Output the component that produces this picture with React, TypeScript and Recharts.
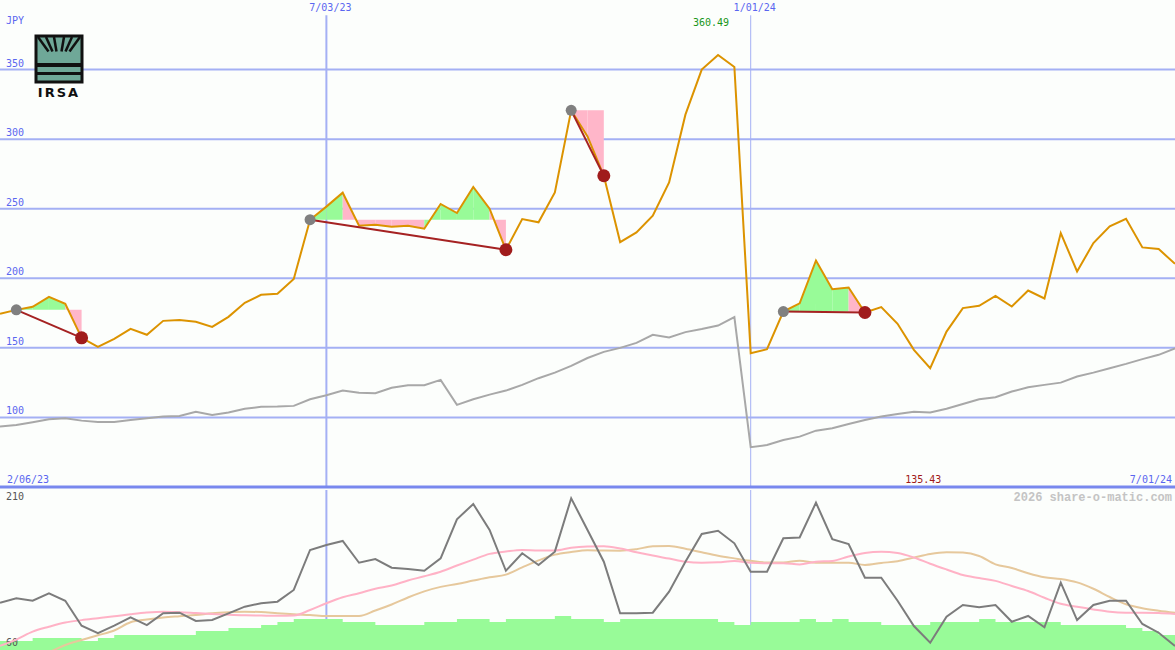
import React from 'react';
import { ComposedChart, Line, Area, XAxis, YAxis, ReferenceLine, ReferenceDot } from 'recharts';

// ---------- data ----------
const weekIndex: number[] = [
  0, 1, 2, 3, 4, 5, 6, 7, 8, 9, 10, 11, 12, 13, 14, 15, 16, 17, 18, 19, 20, 21, 22, 23, 24,
  25, 26, 27, 28, 29, 30, 31, 32, 33, 34, 35, 36, 37, 38, 39, 40, 41, 42, 43, 44, 45, 46, 47, 48,
  49, 50, 51, 52, 53, 54, 55, 56, 57, 58, 59, 60, 61, 62, 63, 64, 65, 66, 67, 68, 69, 70, 71, 72,
];
const dateLabels = ['2/06/23', '7/03/23', '1/01/24', '7/01/24'];
const dateLabelWeeks = [0, 20, 46, 72];
const priceTicks = [100, 150, 200, 250, 300, 350];
const lowerTicks = [60, 210];

const price = [
  174.5, 177.3, 179.5, 186.7, 181.7, 157.2, 150.7, 156.5, 163.7, 159.4,
  169.4, 170.1, 168.7, 165.1, 172.3, 182.4, 188.1, 188.9, 199.5, 242.1,
  251.5, 261.5, 237.8, 238.5, 237, 237.8, 235.6, 253.4, 246.9, 265.6,
  250, 220.5, 242.6, 240.2, 261.7, 320.7, 302, 273.7, 226, 233,
  245, 268.9, 317.6, 350, 360.49, 351.9, 146.2, 149, 176.1, 182,
  212.8, 192.2, 193.4, 175.4, 179.3, 167.3, 148.6, 135.43, 161.7, 178.6,
  180.2, 187.4, 179.7, 191.2, 185.5, 232.5, 204.9, 225.3, 237.3, 242.8,
  222.2, 221, 210.4,
];
const relative = [
  93.4, 94.6, 96.6, 98.7, 99.4, 97.7, 96.8, 96.8, 98.2, 99.4,
  100.6, 101.1, 104, 101.8, 103.5, 106.3, 107.6, 107.8, 108.3, 113.1,
  116, 119.3, 117.8, 117.4, 121.3, 123.2, 123.2, 127, 109, 113.1,
  116.4, 119.3, 123.4, 128.2, 132.2, 137, 142.7, 147.1, 150, 153.6,
  159.4, 157.4, 161.3, 163.5, 166, 172.1, 78.6, 80.2, 83.8, 86.2,
  90.5, 92.2, 95.3, 98.2, 100.6, 102.5, 104, 103.5, 106.3, 109.7,
  113.1, 114.5, 118.6, 121.7, 123.4, 125, 129.4, 132.2, 135.4, 138.5,
  141.9, 145, 149.6,
];
const oscillator = [
  104.3, 108.5, 106.2, 113.2, 106.2, 82.8, 75.7, 82.8, 90.7, 83.4,
  94.4, 95, 87.2, 88.1, 94.4, 100.6, 103.8, 105.3, 116.3, 153.8,
  158.4, 162.2, 141.8, 145.3, 137.2, 136, 134.3, 146, 182.5, 196.9,
  172.5, 134.3, 150.7, 139.7, 152.2, 202.2, 172.5, 142.8, 94.4, 94.4,
  95, 114.7, 142.8, 168.8, 171.8, 160, 133.4, 133.4, 164.7, 165.5,
  198.1, 163.8, 159.4, 127.8, 127.8, 106.2, 82.5, 66.8, 91.2, 102.2,
  100, 102.2, 86.5, 91.9, 81.3, 123.1, 88.1, 102.2, 106.2, 106.2,
  84.4, 76.2, 63.8,
];
const avgFast = [
  64, 69.8, 77.2, 81.8, 85.8, 88, 89.8, 91.6, 93.5, 95.1,
  95.9, 95.4, 94.6, 93.8, 93, 92.6, 92.3, 92, 92.3, 97.5,
  103.8, 109.4, 113.2, 117.4, 120.5, 125.2, 129.1, 133.4, 139.2, 144.7,
  150.1, 152.3, 153.8, 153.2, 153.2, 155.8, 157, 157.3, 155.2, 151.7,
  148.5, 145.7, 142.8, 141.8, 142.2, 143.4, 141.8, 141.3, 141.3, 140.2,
  142.8, 143.4, 147.7, 151, 152.1, 150.9, 146.7, 140.9, 135.5, 130.3,
  127.5, 124.8, 120, 115.3, 109, 103.3, 100.5, 98, 95.8, 95,
  95, 94.7, 93.8,
];
const avgSlow = [
  44, 48, 53, 58, 64.7, 69.4, 73.8, 78.3, 86, 88.6,
  90.5, 91.7, 92.8, 94.5, 95.4, 95.8, 95.7, 94.4, 93.4, 92.8,
  91.9, 91.9, 91.9, 97, 102.7, 109.2, 115, 119.2, 121.9, 125.1,
  128.2, 130.7, 137.5, 144, 149.4, 151.9, 153.6, 153.2, 153.1, 154.5,
  157.2, 157.5, 154.9, 151.6, 148.4, 145.9, 143.6, 142.1, 142.1, 143.7,
  141.9, 141.8, 141.8, 139.7, 141.6, 143.2, 146.6, 150.1, 151.6, 151.3,
  148.1, 140.3, 136.9, 132, 128.2, 126.6, 123.4, 117.4, 109.7, 102.9,
  99.2, 96.9, 95,
];
const volume = [
  68.4, 68.4, 71.3, 71.3, 71.3, 68.4, 71.3, 74.1, 74.1, 74.1,
  74.1, 74.1, 77.8, 77.8, 80.6, 80.6, 83.4, 86.3, 89.1, 89.1,
  89.1, 86.3, 86.3, 83.4, 83.4, 83.4, 86.3, 86.3, 89.1, 89.1,
  86.3, 89.1, 89.1, 89.1, 91.9, 89.1, 89.1, 86.3, 89.1, 89.1,
  89.1, 89.1, 89.1, 89.1, 86.3, 83.4, 86.3, 86.3, 86.3, 89.1,
  86.3, 89.1, 86.3, 86.3, 83.4, 83.4, 83.4, 86.3, 86.3, 86.3,
  89.1, 86.3, 86.3, 86.3, 86.3, 83.4, 83.4, 83.4, 83.4, 80.6,
  77.8, 74.1, 74.1,
];
const signalStart = [1, 19, 35, 48];
const signalEnd = [5, 31, 37, 53];

// ---------- styles ----------
const BG = '#fcfefc';
const GRID = '#a4b0f4';
const AXIS_BLUE = '#5a66f0';
const BORDER = '#7888ee';
const ORANGE = '#dc9300';
const REL_GRAY = '#a8a8a8';
const OSC_GRAY = '#7c7c7c';
const PINK_LINE = '#ffb2c6';
const TAN_LINE = '#e6c89c';
const GREEN_FILL = '#98fb98';
const PINK_FILL = '#ffb6c9';
const SIG_RED = '#a52222';
const MONO = 'DejaVu Sans Mono, monospace';

// ---------- derived tables ----------
const fillKeys: { key: string; color: string }[] = [];
signalStart.forEach((s, n) => {
  const e = signalEnd[n];
  for (let k = s; k < e; k++) {
    fillKeys.push({ key: `fill${n}_${k}`, color: price[k + 1] >= price[s] ? GREEN_FILL : PINK_FILL });
  }
});

const topData = weekIndex.map((i) => {
  const row: any = { i, price: price[i], relative: relative[i] };
  signalStart.forEach((s, n) => {
    const e = signalEnd[n];
    const base = price[s];
    if (i === s || i === e) row[`sig${n}`] = price[i];
    for (let k = s; k < e; k++) {
      if (i === k || i === k + 1) row[`fill${n}_${k}`] = [base, price[i]];
    }
  });
  return row;
});

const bottomData = weekIndex.map((i) => ({
  i,
  volume: volume[i],
  oscillator: oscillator[i],
  avgFast: avgFast[i],
  avgSlow: avgSlow[i],
}));

let maxIdx = 0;
let minIdx = 0;
price.forEach((p, i) => {
  if (p > price[maxIdx]) maxIdx = i;
  if (p < price[minIdx]) minIdx = i;
});

// ---------- renderers ----------
const makeGridLabel = (value: number) => (p: any) => (
  <text x={p.viewBox.x + 6} y={p.viewBox.y - 3} fill={AXIS_BLUE} fontSize={10} fontFamily={MONO}>
    {value}
  </text>
);

const makeLowerLabel = (value: number, top: boolean) => (p: any) => (
  <text
    x={p.viewBox.x + 6}
    y={top ? p.viewBox.y + 10 : p.viewBox.y - 4}
    fill="#555555"
    fontSize={10}
    fontFamily={MONO}
  >
    {value}
  </text>
);

const bottomDatesLabel = (p: any) => (
  <g>
    <text x={p.viewBox.x + 7} y={p.viewBox.y - 4} textAnchor="start" fill={AXIS_BLUE} fontSize={10} fontFamily={MONO}>
      {dateLabels[0]}
    </text>
    <text
      x={p.viewBox.x + p.viewBox.width - 3}
      y={p.viewBox.y - 4}
      textAnchor="end"
      fill={AXIS_BLUE}
      fontSize={10}
      fontFamily={MONO}
    >
      {dateLabels[3]}
    </text>
  </g>
);

const makeTopDateLabel = (text: string) => (p: any) => (
  <text
    x={p.viewBox.x + 4}
    y={p.viewBox.y - 4}
    textAnchor="middle"
    fill={AXIS_BLUE}
    fontSize={10}
    fontFamily={MONO}
  >
    {text}
  </text>
);

const maxLabel = (p: any) => (
  <text
    x={p.viewBox.x + p.viewBox.width / 2 - 7}
    y={p.viewBox.y + p.viewBox.height / 2 - 29}
    textAnchor="middle"
    fill="#1a961a"
    fontSize={10}
    fontFamily={MONO}
  >
    {price[maxIdx].toFixed(2)}
  </text>
);

const minLabel = (p: any) => (
  <text
    x={p.viewBox.x + p.viewBox.width / 2 - 7}
    y={483}
    textAnchor="middle"
    fill="#a01818"
    fontSize={10}
    fontFamily={MONO}
  >
    {price[minIdx].toFixed(2)}
  </text>
);

const makeSignalDot = (n: number) => (props: any) => {
  const { cx, cy, index, payload } = props;
  if (cx == null || cy == null || payload == null || payload[`sig${n}`] == null) {
    return <g key={`e${n}_${index}`} />;
  }
  const isStart = payload.i === signalStart[n];
  return (
    <circle
      key={`d${n}_${index}`}
      cx={cx}
      cy={cy}
      r={isStart ? 5.5 : 6.5}
      fill={isStart ? '#808080' : '#a01c1c'}
      stroke="none"
    />
  );
};

// ---------- logo ----------
const Logo = () => {
  const rays = [38, 46, 54, 64, 72, 80];
  return (
    <g>
      <rect x={36} y={36} width={46} height={46} fill="#6fa898" stroke="#111" strokeWidth={3} />
      {rays.map((rx, k) => {
        const ox = 59;
        const oy = 66;
        const tx = rx;
        const ty = 37;
        const t1 = 0.5;
        return (
          <line
            key={k}
            x1={tx}
            y1={ty}
            x2={tx + (ox - tx) * t1}
            y2={ty + (oy - ty) * t1}
            stroke="#111"
            strokeWidth={2.5}
          />
        );
      })}
      <rect x={36} y={63} width={46} height={4} fill="#111" />
      <rect x={36} y={72} width={46} height={3} fill="#111" />
      <text x={59} y={97} textAnchor="middle" fontFamily="DejaVu Sans, sans-serif" fontWeight="bold" fontSize={13} letterSpacing={2} fill="#111">
        IRSA
      </text>
    </g>
  );
};

export default function App() {
  return (
    <div style={{ position: 'absolute', left: 0, top: 0, width: 1175, height: 650, background: BG, overflow: 'hidden' }}>
      <div style={{ position: 'absolute', left: 0, top: 0 }}>
        <ComposedChart width={1175} height={490} data={topData} margin={{ top: 0, right: 0, bottom: 3, left: 0 }}>
          <XAxis dataKey="i" type="number" domain={[0, 72]} hide />
          <YAxis domain={[50, 400]} hide />
          {priceTicks.map((t) => (
            <ReferenceLine key={`g${t}`} y={t} stroke={GRID} strokeWidth={2} zIndex={-50} label={makeGridLabel(t)} />
          ))}
          <ReferenceLine
            segment={[{ x: dateLabelWeeks[1], y: 389 }, { x: dateLabelWeeks[1], y: 50 }]}
            stroke={GRID}
            strokeWidth={2}
            zIndex={-50}
            label={makeTopDateLabel(dateLabels[1])}
          />
          <ReferenceLine
            segment={[{ x: dateLabelWeeks[2], y: 389 }, { x: dateLabelWeeks[2], y: 50 }]}
            stroke={GRID}
            strokeWidth={1}
            zIndex={-50}
            label={makeTopDateLabel(dateLabels[2])}
          />
          <ReferenceLine y={50} stroke={BORDER} strokeWidth={3} label={bottomDatesLabel} />
          {fillKeys.map((f) => (
            <Area
              key={f.key}
              dataKey={f.key}
              type="linear"
              stroke="none"
              fill={f.color}
              fillOpacity={1}
              isAnimationActive={false}
              activeDot={false}
              dot={false}
            />
          ))}
          <Line dataKey="relative" type="linear" stroke={REL_GRAY} strokeWidth={2} dot={false} activeDot={false} isAnimationActive={false} />
          <Line dataKey="price" type="linear" stroke={ORANGE} strokeWidth={2} dot={false} activeDot={false} isAnimationActive={false} />
          {signalStart.map((s, n) => (
            <Line
              key={`sig${n}`}
              dataKey={`sig${n}`}
              type="linear"
              stroke={SIG_RED}
              strokeWidth={2}
              connectNulls
              dot={makeSignalDot(n)}
              activeDot={false}
              isAnimationActive={false}
            />
          ))}
          <ReferenceDot x={maxIdx} y={price[maxIdx]} r={1} fill="none" stroke="none" label={maxLabel} />
          <ReferenceDot x={minIdx} y={price[minIdx]} r={1} fill="none" stroke="none" label={minLabel} />
        </ComposedChart>
      </div>
      <div style={{ position: 'absolute', left: 0, top: 490 }}>
        <ComposedChart width={1175} height={160} data={bottomData} margin={{ top: 0, right: 0, bottom: 0, left: 0 }}>
          <XAxis dataKey="i" type="number" domain={[0, 72]} hide />
          <YAxis domain={[60, 210]} allowDataOverflow hide />
          <ReferenceLine x={dateLabelWeeks[1]} stroke={GRID} strokeWidth={2} zIndex={-50} />
          <ReferenceLine x={dateLabelWeeks[2]} stroke={GRID} strokeWidth={1} zIndex={-50} />
          <ReferenceLine y={lowerTicks[1]} stroke="none" label={makeLowerLabel(lowerTicks[1], true)} />
          <ReferenceLine y={lowerTicks[0]} stroke="none" label={makeLowerLabel(lowerTicks[0], false)} />
          <Area dataKey="volume" type="stepAfter" stroke="none" fill={GREEN_FILL} fillOpacity={1} baseValue={60} isAnimationActive={false} activeDot={false} />
          <Line dataKey="avgSlow" type="monotone" stroke={TAN_LINE} strokeWidth={2} dot={false} activeDot={false} isAnimationActive={false} />
          <Line dataKey="avgFast" type="monotone" stroke={PINK_LINE} strokeWidth={2} dot={false} activeDot={false} isAnimationActive={false} />
          <Line dataKey="oscillator" type="linear" stroke={OSC_GRAY} strokeWidth={2} dot={false} activeDot={false} isAnimationActive={false} />
        </ComposedChart>
      </div>
      <svg width={1175} height={650} style={{ position: 'absolute', left: 0, top: 0, pointerEvents: 'none' }}>
        <text x={6} y={24} fill={AXIS_BLUE} fontSize={10} fontFamily={MONO}>JPY</text>
        <Logo />
        <text x={1172} y={501} textAnchor="end" fill="#c4c4c4" fontSize={12} fontWeight="bold" fontFamily="Liberation Mono, monospace">
          2026 share-o-matic.com
        </text>
      </svg>
    </div>
  );
}
